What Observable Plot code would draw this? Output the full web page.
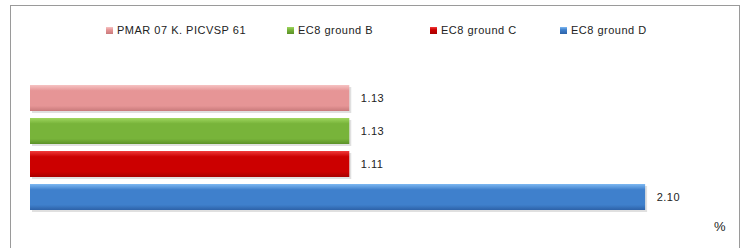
<!DOCTYPE html>
<html>
<head>
<meta charset="utf-8">
<script src="https://cdn.jsdelivr.net/npm/d3@7"></script>
<script src="https://cdn.jsdelivr.net/npm/@observablehq/plot@0.6"></script>
<style>
  html, body { margin: 0; padding: 0; background: #fff; }
  #wrap { position: relative; width: 742px; height: 248px; overflow: hidden; font-family: "Liberation Sans", Arial, sans-serif; }
  #frame { position: absolute; left: 10px; top: 5px; width: 730px; height: 260px; border: 1.5px solid #9a9a9a; box-sizing: border-box; pointer-events: none; }
  #legend { position: absolute; top: 24px; left: 0; width: 742px; font-size: 11px; color: #222; letter-spacing: 0.5px; }
  .item { position: absolute; top: 0; white-space: nowrap; }
  .sw { display: inline-block; width: 7px; height: 7px; margin-right: 4px; vertical-align: 0px; }
  #unit { position: absolute; left: 714px; top: 219px; font-size: 13px; color: #222; }
  svg { position: absolute; left: 0; top: 0; }
</style>
</head>
<body>
<div id="wrap">
  <div id="frame"></div>
  <div id="legend"></div>
  <div id="unit">%</div>
</div>
<script>
const series = ["PMAR 07 K. PICVSP 61", "EC8 ground B", "EC8 ground C", "EC8 ground D"];
const values = [1.09, 1.09, 1.09, 2.10];
const labels = ["1.13", "1.13", "1.11", "2.10"];
const colors = ["#e69596", "#78b43a", "#cc0000", "#3f80cc"];
const lightColors = ["#f6c3c3", "#9fd65e", "#f03a3a", "#7db8f2"];
const darkColors = ["#c97a7b", "#5b9128", "#a80000", "#2d62a8"];
const legendX = [106, 287, 430, 560];

const data = series.map((s, i) => ({series: s, value: values[i], label: labels[i], idx: i}));

const chart = Plot.plot({
  width: 742,
  height: 248,
  marginTop: 80,
  marginBottom: 33,
  marginLeft: 30,
  marginRight: 9,
  x: {domain: [0, 2.4], axis: null},
  y: {domain: series, axis: null, paddingInner: 0.2, paddingOuter: 0.1},
  style: {fontFamily: "Liberation Sans, Arial, sans-serif", background: "transparent"},
  marks: [
    ...data.map((d, i) => Plot.barX([d], {x: "value", y: "series", fill: "#000", fillOpacity: 0.12, dx: 2, dy: 2})),
    ...data.map((d, i) => Plot.barX([d], {x: "value", y: "series", fill: `url(#grad${i})`})),
    Plot.text(data, {x: "value", y: "series", text: "label", dx: 11, textAnchor: "start", fontSize: 11, fill: "#222"})
  ]
});

const defs = d3.select(chart).insert("defs", ":first-child");
colors.forEach((c, i) => {
  const g = defs.append("linearGradient").attr("id", `grad${i}`).attr("x1", 0).attr("y1", 0).attr("x2", 0).attr("y2", 1);
  g.append("stop").attr("offset", "0%").attr("stop-color", lightColors[i]);
  g.append("stop").attr("offset", "22%").attr("stop-color", c);
  g.append("stop").attr("offset", "80%").attr("stop-color", c);
  g.append("stop").attr("offset", "100%").attr("stop-color", darkColors[i]);
});
d3.select(chart).selectAll("text").style("letter-spacing", "0.5px");

document.getElementById("wrap").insertBefore(chart, document.getElementById("frame"));

const legend = document.getElementById("legend");
series.forEach((s, i) => {
  const it = document.createElement("div");
  it.className = "item";
  it.style.left = legendX[i] + "px";
  it.innerHTML = `<span class="sw" style="background:linear-gradient(${lightColors[i]}, ${colors[i]} 40%, ${darkColors[i]})"></span>${s}`;
  legend.appendChild(it);
});
</script>
</body>
</html>
